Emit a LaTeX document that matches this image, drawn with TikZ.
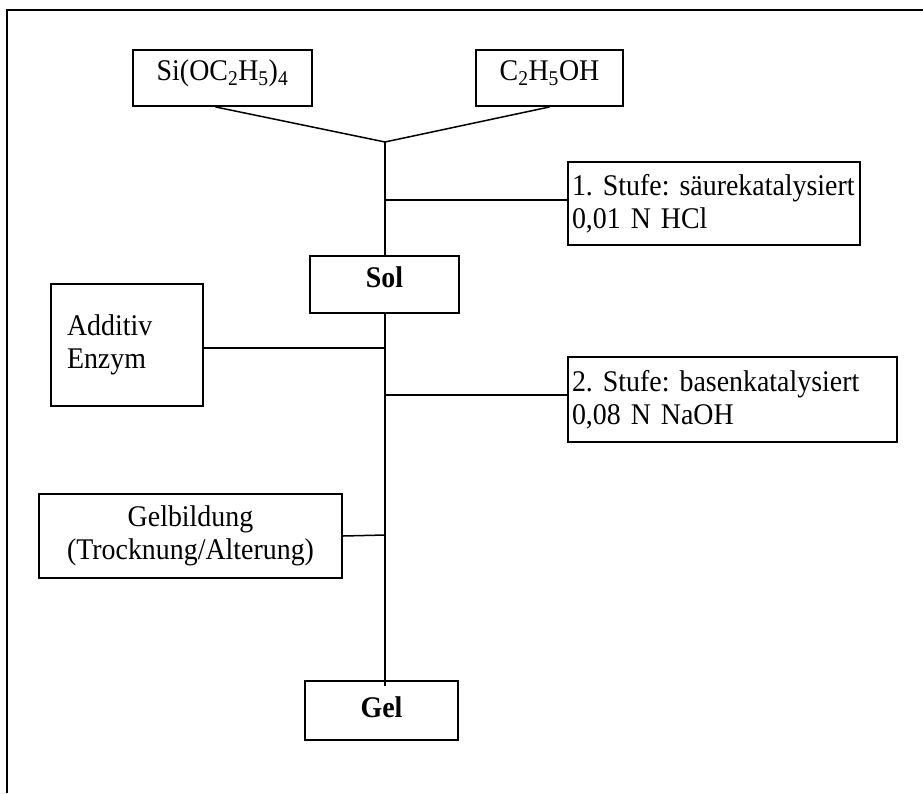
\documentclass[tikz,border=0pt]{standalone}
\usepackage{fontspec}
\setmainfont[FakeStretch=0.93]{Liberation Serif}
\begin{document}
\frenchspacing
\begin{tikzpicture}[x=1pt,y=-1pt,
  font=\fontsize{30}{33}\selectfont,
  box/.style={draw, line width=1.9pt, rectangle, inner sep=0pt},
  toptext/.style={text height=20pt, text depth=15pt},
  conn/.style={line width=1.5pt}]
\useasboundingbox (0,0) rectangle (923,793);
\draw[line width=1.9pt] (7,793) -- (7,10) -- (923,10);
% nodes
\node[box, toptext, minimum width=179pt, minimum height=56pt] (si) at (222.5,78) {Si(OC\textsubscript{2}H\textsubscript{5})\textsubscript{4}};
\node[box, toptext, minimum width=147pt, minimum height=56pt] (eth) at (549.5,78) {C\textsubscript{2}H\textsubscript{5}OH};
\node[box, minimum height=83pt, text width=284pt, inner xsep=4pt, align=left] (s1) at (714,203.5) {\mbox{1. Stufe: säurekatalysiert}\\\mbox{0,01 N HCl}};
\node[box, toptext, minimum width=149pt, minimum height=57pt, font=\fontsize{30}{33}\selectfont\bfseries] (sol) at (384.5,284.5) {Sol};
\node[box, minimum height=122pt, text width=120pt, inner xsep=16pt, align=left] (add) at (127,345) {Additiv\\Enzym};
\node[box, minimum height=85pt, text width=321pt, inner xsep=4pt, align=left] (s2) at (732.5,399.5) {\mbox{2. Stufe: basenkatalysiert}\\\mbox{0,08 N NaOH}};
\node[box, minimum height=84pt, text width=283pt, inner xsep=10pt, align=center] (gb) at (190.5,536) {Gelbildung\\\mbox{(Trocknung/Alterung)}};
\node[box, text height=20pt, text depth=7pt, minimum width=153pt, minimum height=59pt, font=\fontsize{30}{33}\selectfont\bfseries] (gel) at (381.5,710.5) {Gel};
% connectors
\coordinate (j) at (385,142);
\coordinate (t1) at (385,200);
\coordinate (t2) at (385,348);
\coordinate (t3) at (385,395);
\coordinate (t4) at (385,535);
\draw[conn] ([xshift=-7pt]si.south) -- (j) -- (eth.south);
\draw[conn] (j) -- (j |- sol.north);
\draw[conn] (t1) -- (t1 -| s1.west);
\draw[conn] (j |- sol.south) -- ([yshift=-6pt]j |- gel.north);
\draw[conn] (t2 -| add.east) -- (t2);
\draw[conn] (t3) -- (t3 -| s2.west);
\draw[conn] (gb.east) -- (t4);
\end{tikzpicture}
\end{document}
